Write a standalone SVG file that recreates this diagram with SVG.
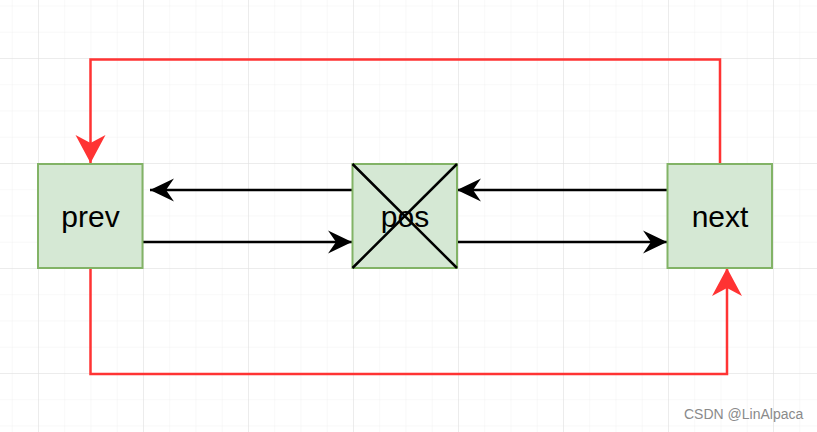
<svg xmlns="http://www.w3.org/2000/svg" width="817" height="432" viewBox="0 0 817 432">
<defs>
<pattern id="minor" x="11.75" y="5.5" width="26.25" height="26.25" patternUnits="userSpaceOnUse">
<path d="M0 0H26.25M0 0V26.25" fill="none" stroke="#f1f1f1" stroke-width="1"/>
</pattern>
<pattern id="major" x="38" y="58" width="105" height="105" patternUnits="userSpaceOnUse">
<path d="M0 0H105M0 0V105" fill="none" stroke="#e0e0e0" stroke-width="1"/>
</pattern>
<marker id="blk" markerUnits="userSpaceOnUse" markerWidth="30" markerHeight="30" refX="24" refY="12" orient="auto">
<path d="M24 12L0 0.5L8 12L0 23.5Z" fill="#000"/>
</marker>
<marker id="red" markerUnits="userSpaceOnUse" markerWidth="34" markerHeight="34" refX="28" refY="15" orient="auto">
<path d="M28 15L0 0L8 15L0 30Z" fill="#ff3333"/>
</marker>
</defs>
<style>
.box{fill:#d5e8d4;stroke:#82b366;stroke-width:2}
.lbl{font-family:"Liberation Sans",Arial,sans-serif;font-size:30px;fill:#000;text-anchor:middle}
.bl{fill:none;stroke:#000;stroke-width:2.5}
.rd{fill:none;stroke:#ff3333;stroke-width:2.5}
</style>
<rect width="817" height="432" fill="#fff"/>
<rect width="817" height="432" fill="url(#minor)"/>
<rect width="817" height="432" fill="url(#major)"/>
<g id="connectors">
<path class="rd" d="M720 163V59.5H90.5V163" marker-end="url(#red)"/>
<path class="rd" d="M90.5 268V374H727V268" marker-end="url(#red)"/>
<path class="bl" d="M667 190H457" marker-end="url(#blk)"/>
<path class="bl" d="M352 190H150" marker-end="url(#blk)"/>
<path class="bl" d="M143 242H352" marker-end="url(#blk)"/>
<path class="bl" d="M457 242H667" marker-end="url(#blk)"/>
</g>
<g id="prev">
<rect class="box" x="38" y="164" width="104.5" height="104"/>
<text class="lbl" x="90.5" y="227">prev</text>
</g>
<g id="pos">
<rect class="box" x="352.5" y="164" width="104.5" height="104"/>
<text class="lbl" x="405" y="227">pos</text>
<path d="M352.5 164L457 268M457 164L352.5 268" stroke="#000" stroke-width="2.5"/>
</g>
<g id="next">
<rect class="box" x="667.5" y="164" width="104.5" height="104"/>
<text class="lbl" x="720" y="227">next</text>
</g>
<text x="684" y="419" font-family="'Liberation Sans',Arial,sans-serif" font-size="14" fill="#8a8a8a">CSDN @LinAlpaca</text>
</svg>
